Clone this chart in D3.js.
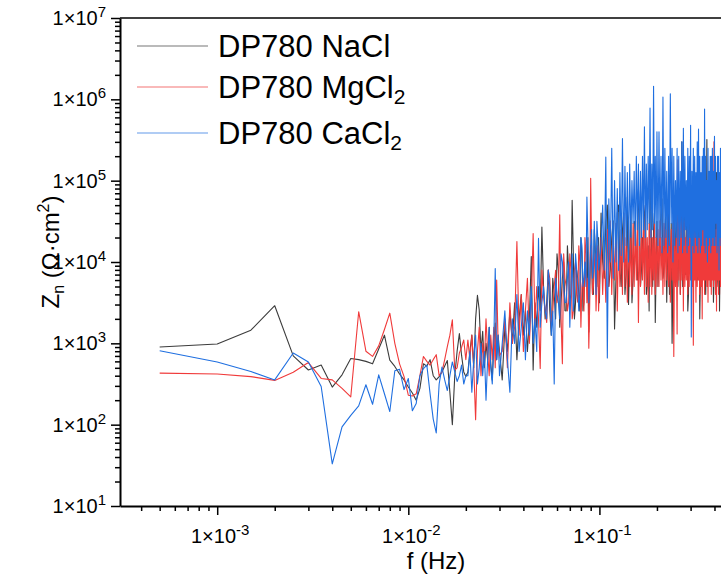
<!DOCTYPE html>
<html>
<head>
<meta charset="utf-8">
<script src="https://cdnjs.cloudflare.com/ajax/libs/d3/7.8.5/d3.min.js"></script>
<style>
body { margin: 0; background: #fff; }
svg { display: block; font-family: "Liberation Sans", Arial, sans-serif; }
</style>
</head>
<body>
<div id="chart"></div>
<script>
// frequency grid (Hz), shared by the three series
var freq = [0.0005, 0.001, 0.0015, 0.002, 0.0025, 0.003, 0.0035, 0.004, 0.0045, 0.005,
  0.0055, 0.006, 0.0065, 0.007, 0.0075, 0.008, 0.0085, 0.009, 0.0095, 0.01,
  0.0105, 0.011, 0.0115, 0.012, 0.0125, 0.013, 0.0135, 0.014, 0.0145, 0.015,
  0.0155, 0.016, 0.0165, 0.017, 0.0175, 0.018, 0.0185, 0.019, 0.0195, 0.02,
  0.0205, 0.021, 0.0215, 0.022, 0.0225, 0.023, 0.0235, 0.024, 0.0245, 0.025,
  0.0255, 0.026, 0.0265, 0.027, 0.0275, 0.028, 0.0285, 0.029, 0.0295, 0.03,
  0.031, 0.032, 0.033, 0.034, 0.035, 0.036, 0.037, 0.038, 0.039, 0.04,
  0.041, 0.042, 0.043, 0.044, 0.045, 0.046, 0.047, 0.048, 0.049, 0.05,
  0.051, 0.052, 0.053, 0.054, 0.055, 0.056, 0.057, 0.058, 0.059, 0.06,
  0.061, 0.062, 0.063, 0.064, 0.065, 0.066, 0.067, 0.068, 0.069, 0.07,
  0.071, 0.072, 0.073, 0.074, 0.075, 0.076, 0.077, 0.078, 0.079, 0.08,
  0.081, 0.082, 0.083, 0.084, 0.085, 0.086, 0.087, 0.088, 0.089, 0.09,
  0.091, 0.092, 0.093, 0.094, 0.095, 0.096, 0.097, 0.098, 0.099, 0.1,
  0.102, 0.104, 0.106, 0.108, 0.11, 0.112, 0.114, 0.116, 0.118, 0.12,
  0.122, 0.124, 0.126, 0.128, 0.13, 0.132, 0.134, 0.136, 0.138, 0.14,
  0.142, 0.144, 0.146, 0.148, 0.15, 0.152, 0.154, 0.156, 0.158, 0.16,
  0.162, 0.164, 0.166, 0.168, 0.17, 0.172, 0.174, 0.176, 0.178, 0.18,
  0.182, 0.184, 0.186, 0.188, 0.19, 0.192, 0.194, 0.196, 0.198, 0.2,
  0.2025, 0.205, 0.2075, 0.21, 0.2125, 0.215, 0.2175, 0.22, 0.2225, 0.225,
  0.2275, 0.23, 0.2325, 0.235, 0.2375, 0.24, 0.2425, 0.245, 0.2475, 0.25,
  0.2525, 0.255, 0.2575, 0.26, 0.2625, 0.265, 0.2675, 0.27, 0.2725, 0.275,
  0.2775, 0.28, 0.2825, 0.285, 0.2875, 0.29, 0.2925, 0.295, 0.2975, 0.3,
  0.3025, 0.305, 0.3075, 0.31, 0.3125, 0.315, 0.3175, 0.32, 0.3225, 0.325,
  0.3275, 0.33, 0.3325, 0.335, 0.3375, 0.34, 0.3425, 0.345, 0.3475, 0.35,
  0.3525, 0.355, 0.3575, 0.36, 0.3625, 0.365, 0.3675, 0.37, 0.3725, 0.375,
  0.3775, 0.38, 0.3825, 0.385, 0.3875, 0.39, 0.3925, 0.395, 0.3975, 0.4,
  0.4025, 0.405, 0.4075, 0.41, 0.4125, 0.415, 0.4175, 0.42, 0.4225, 0.425,
  0.4275, 0.43, 0.4325, 0.435, 0.4375, 0.44, 0.4425, 0.445, 0.4475, 0.45,
  0.4525, 0.455, 0.4575, 0.46, 0.4625, 0.465, 0.4675, 0.47, 0.4725, 0.475,
  0.4775, 0.48, 0.4825, 0.485, 0.4875, 0.49, 0.4925, 0.495, 0.4975, 0.5];

// Zn (Ohm.cm2), DP780 in NaCl
var zNaCl = [900, 980, 1450, 2900, 700, 470, 540, 290, 410, 650, 630, 600, 560, 850, 1260, 620, 520, 420, 355, 290,
  245, 200, 280, 560, 525, 630, 400, 355, 390, 445, 525, 615, 250, 100, 400, 795, 1320, 710, 445, 390,
  445, 795, 1260, 500, 2000, 3900, 2570, 795, 1410, 500, 1000, 630, 1580, 560, 355, 1000, 1780, 630, 1260, 795,
  355, 1580, 795, 2510, 1000, 3160, 630, 2000, 3980, 1260, 2510, 795, 2000, 11700, 470, 3160, 1580, 5000, 2510, 26900,
  5000, 2000, 3200, 7940, 2500, 1260, 6300, 3980, 2000, 12600, 7900, 1580, 3200, 6310, 10000, 2510, 2500, 15800, 7900, 3160,
  4000, 57500, 12600, 2000, 3200, 7940, 6300, 3980, 2500, 20000, 12600, 2510, 3200, 10000, 7900, 5000, 20000, 1380, 5000, 15800,
  10000, 3980, 4000, 25100, 15800, 6310, 5000, 12600, 20000, 3160,
  4e4, 1e4, 6.3e3, 3.16e4, 5e4, 5e3, 8e3, 2e4, 3.2e4, 1.5e3, 6e3, 3.98e4, 5e4, 7.9e3, 5e3, 2.5e4, 4e4, 4e3, 7e3, 6.3e4,
  3e3, 1.26e4, 4.5e4, 3.16e3, 6e3, 3.16e4, 3e4, 1e4, 6e3, 7.9e4, 4e4, 5e3, 8e3, 2e4, 1e4, 4e4, 5e4, 4e3, 5e3, 1.58e4,
  2.5e3, 1e5, 6e4, 7.9e3, 5e3, 2.5e4, 4e4, 1.8e3, 8e3, 3.16e4,
  5e3, 1.26e4, 2e4, 4e4, 6e4, 6.3e3, 8e3, 2.5e4, 4e4, 3.2e3, 1.2e4, 5e4, 4e3, 1e4, 3e4, 1e3, 6e3, 3.2e4, 5e4, 7.9e3,
  2.5e4, 6.3e4, 5e3, 1.6e4, 4e4, 4e3, 8e3, 3e5, 5e3, 2e4, 6e4, 7.9e3, 7e3, 4e4, 3e4, 2.5e3, 4e3, 7.9e4, 5e4, 1.26e4,
  6e3, 3.2e4, 4e4, 5e3, 8e3, 1e5, 4e4, 1.6e4, 3e4, 6.3e3, 6e3, 4e4, 5e4, 2e3, 6e3, 2.5e4, 1e4, 6.3e4, 4e4, 7.9e3,
  5e4, 1.6e4, 6e3, 4e3, 2e4, 3.2e5, 6e3, 1.26e4, 8e3, 3.2e4, 5e4, 5e3, 5e3, 7.9e4, 4e4, 1e4, 2e4, 3.2e3, 6e3, 4e4,
  4e4, 1.6e4, 5e3, 1.26e5, 3e4, 6.3e3, 5e3, 2.5e4, 4e4, 2.5e3, 8e3, 5e4, 3e4, 1e4, 5e3, 2e4, 4e4, 4e3, 6e3, 1.6e5,
  4e4, 1.26e4, 3e4, 7.9e3, 6e3, 4e4, 5e4, 2e3, 6e3, 3.2e4, 4e4, 1e4, 8e3, 6.3e4, 3e4, 5e3, 6e3, 2.5e4, 4e4, 1.6e4];

// Zn (Ohm.cm2), DP780 in MgCl2
var zMgCl2 = [430, 420, 390, 350, 440, 580, 370, 355, 280, 220, 2450, 800, 690, 930, 1480, 2350, 1000, 560, 390, 230,
  225, 240, 400, 690, 600, 540, 630, 725, 400, 445, 630, 910, 1260, 1950, 470, 500, 760, 890, 1100, 630,
  1100, 630, 1260, 500, 115, 795, 1580, 400, 1000, 560, 2000, 795, 400, 1260, 630, 1580, 500, 6000, 1000, 710,
  795, 2000, 500, 3160, 1000, 1580, 17800, 1260, 3980, 795, 2510, 6310, 1000, 3160, 22400, 1580, 5000, 2000, 490, 7940,
  4000, 2510, 1800, 7940, 6300, 1580, 2500, 5000, 7900, 3160, 4000, 38000, 2000, 560, 12600, 6310, 5000, 2510, 3200, 12600,
  7900, 2000, 2500, 7940, 10000, 3980, 3200, 15800, 10000, 1580, 5000, 6310, 2500, 20000, 12600, 3160, 6300, 870, 3200, 107000,
  15800, 3980, 5000, 10000, 12600, 2510, 6300, 15800, 2500, 5000,
  2e4, 4e3, 1.6e4, 3.2e3, 2.5e4, 5e3, 3.2e4, 4e3, 2e4, 6e3, 3e4, 2.5e3, 2e4, 5e3, 2.5e4, 4e3, 4e4, 5e3, 2e4, 3.2e3,
  2.5e4, 5e3, 2e4, 4e3, 3e4, 5e3, 2.5e4, 6e3, 3.2e4, 1.8e3, 2e4, 5e3, 3.2e4, 6e3, 2.5e4, 4e3, 5e4, 5e3, 2e4, 3.2e3,
  3e4, 5e3, 2.5e4, 4e3, 2e4, 6e3, 3e4, 4e3, 2e4, 5e3,
  2.5e4, 5e3, 3.2e4, 6e3, 2e4, 4e3, 3e4, 5e3, 2.5e4, 6e3, 4e4, 5e3, 2e4, 3.2e3, 2.5e4, 6e3, 3e4, 690, 2.5e4, 5e3,
  2e4, 1.3e3, 1.8e5, 6e3, 2.5e4, 4e3, 5e4, 6e3, 3e4, 2.5e3, 3.2e4, 5e3, 2e4, 6e3, 2.5e4, 4e3, 3e4, 5e3, 2e4, 6e3,
  4e4, 5e3, 2e4, 950, 3e4, 6e3, 2.5e4, 3.2e3, 6.3e4, 5e3, 2.5e4, 6e3, 2e4, 4e3, 3e4, 5e3, 2.5e4, 2e3, 3.2e4, 6e3,
  4e4, 4e3, 2.5e4, 6e3, 2e4, 5e3, 3e4, 3.2e3, 2.5e4, 6e3, 2e4, 5e3, 3.2e4, 4e3, 2.5e4, 6e3, 3e4, 5e3, 3e5, 6e3,
  2e4, 4e3, 2.5e4, 2.5e3, 5e4, 6e3, 2.5e4, 4e3, 3.2e4, 6e3, 2e4, 5e3, 2.5e4, 4e3, 3e4, 6e3, 2.5e4, 1.6e3, 3e4, 5e3,
  4e4, 6e3, 2.5e4, 5e3, 2e4, 3.2e3, 3e4, 6e3, 2.5e4, 5e3, 3e4, 4e3, 2e4, 6e3, 2.5e4, 5e3, 3.2e4, 4e3, 2e4, 6e3];

// Zn (Ohm.cm2), DP780 in CaCl2
var zCaCl2 = [810, 590, 450, 355, 760, 590, 295, 33, 94, 130, 170, 310, 178, 410, 240, 145, 460, 480, 270, 370,
  148, 182, 400, 490, 540, 240, 117, 79, 316, 510, 355, 263, 400, 590, 445, 340, 400, 540, 316, 400,
  400, 795, 250, 630, 1260, 316, 500, 1000, 400, 795, 200, 630, 1580, 500, 316, 1000, 8300, 630, 1260, 400,
  1000, 2510, 630, 250, 2000, 1000, 3980, 795, 1580, 3160, 630, 2510, 1260, 5000, 1000, 2000, 795, 19500, 1580, 3160,
  5000, 2510, 2000, 7940, 5000, 1260, 2500, 316, 6300, 3980, 3200, 2000, 12600, 10000, 5000, 3160, 3200, 6310, 10000, 1580,
  5000, 12600, 2500, 3980, 12600, 7940, 5000, 2510, 4000, 20000, 15800, 5000, 6300, 10000, 5000, 63000, 20000, 3160, 6300, 15800,
  25000, 6310, 8000, 31600, 12600, 3980, 31600, 20000, 8000, 10000,
  1.6e4, 5e4, 8e3, 1.95e5, 660, 6e4, 1e4, 2.5e5, 6.3e3, 1e5, 1e4, 8e4, 7.9e3, 1.26e5, 1.2e4, 3.3e5, 1e4, 1.5e5, 1.6e4, 1.26e5,
  1e4, 1.6e5, 2e4, 1e5, 3e4, 1.3e5, 1.6e4, 2e5, 2.5e4, 1.6e5, 1.6e4, 1.3e5, 2e4, 2e5, 2.5e4, 4.6e5, 2e4, 1.6e5, 2.5e4, 2e5,
  3e4, 7.8e5, 2e4, 1.6e5, 2.5e4, 1.45e6, 3e4, 2e5, 2e4, 4e5,
  1.6e4, 4e5, 2e4, 2e5, 1.3e4, 1.07e6, 1.6e4, 2.5e5, 2e4, 1.3e5, 1.3e4, 2e5, 1.6e4, 1.17e6, 3e4, 2.5e5, 1e4, 2e5, 1.6e4, 1e5,
  2e4, 2.5e5, 1.3e4, 2e5, 1.6e4, 1.3e5, 2e4, 3e5, 1.3e4, 4.4e5, 1.6e4, 2e5, 2.5e4, 1e5, 1.3e4, 2.5e5, 1.6e4, 2e5, 2e4, 4.8e5,
  1.2e3, 1.3e5, 1.6e4, 2.5e5, 1.3e4, 2e5, 2e4, 1.26e5, 1.6e4, 3e5, 1.3e4, 4.3e5, 2e4, 2e5, 1.3e4, 1.26e5, 1.6e4, 2e5, 2.5e4, 2.5e5,
  1.6e4, 7.6e5, 1.3e4, 2e5, 2e4, 1e5, 1e4, 2.5e5, 1.6e4, 1.3e5, 2e4, 2e5, 1.3e4, 2e5, 1.6e4, 2.5e5, 2e4, 1.3e5, 1.6e4, 3.5e5,
  1.6e4, 2e5, 3e4, 1e5, 1.3e4, 2e5, 1.6e4, 2e5, 8e3, 1.26e5, 2e4, 2.5e5, 1.6e4, 2e5, 2e4, 1e5, 1.3e4, 3e5, 1.6e4, 2e5,
  2e4, 2.5e5, 1.3e4, 1e5, 1.6e4, 2e5, 2e4, 2.5e5, 1.6e4, 1.26e5, 1e4, 2e5, 1.6e4, 2e5, 2e4, 2.5e5, 1.6e4, 1.3e5, 3e4, 2e5];

var seriesNames = ["DP780 NaCl", "DP780 MgCl", "DP780 CaCl"];
var seriesSubs = ["", "2", "2"];
var seriesColors = ["#3c3c3c", "#f03a3a", "#1f6fe0"];
var yTickExps = [1, 2, 3, 4, 5, 6, 7];
var xTickExps = [-3, -2, -1];

var width = 721, height = 576;

var svg = d3.select("#chart").append("svg")
    .attr("width", width).attr("height", height);

svg.append("rect").attr("width", width).attr("height", height).attr("fill", "#fff");

var x = d3.scaleLog().domain([3.1e-4, 0.5]).range([120, 733]);
var y = d3.scaleLog().domain([10, 1e7]).range([506, 18]);

var isMajor = function(d){
    var l = Math.log10(d);
    return Math.abs(l - Math.round(l)) < 1e-6;
};
var minorX = x.ticks().filter(function(d){ return !isMajor(d); });
var minorY = y.ticks().filter(function(d){ return !isMajor(d); });

// clip for data
svg.append("clipPath").attr("id", "plotclip")
   .append("rect").attr("x", 120).attr("y", 18).attr("width", 613).attr("height", 488);

var line = d3.line()
    .x(function(d){ return x(d[0]); })
    .y(function(d){ return y(d[1]); });

var plot = svg.append("g").attr("clip-path", "url(#plotclip)");
[zNaCl, zMgCl2, zCaCl2].forEach(function(z, i){
    plot.append("path")
        .datum(d3.zip(freq, z))
        .attr("d", line)
        .attr("fill", "none")
        .attr("stroke", seriesColors[i])
        .attr("stroke-width", 1.1)
        .attr("stroke-linejoin", "round");
});

// top frame line
svg.append("line").attr("x1", 120).attr("x2", 733).attr("y1", 18).attr("y2", 18)
   .attr("stroke", "#000").attr("stroke-width", 1.5);

// x axis
var gx = svg.append("g").attr("transform", "translate(0,506)");
gx.append("g").call(d3.axisBottom(x).tickValues(minorX).tickSize(5).tickFormat("").tickSizeOuter(0))
  .select(".domain").remove();
gx.append("g").call(d3.axisBottom(x).tickValues(xTickExps.map(function(e){ return Math.pow(10, e); }))
  .tickSize(9).tickFormat("").tickSizeOuter(0));

// y axis
var gy = svg.append("g").attr("transform", "translate(120,0)");
gy.append("g").call(d3.axisLeft(y).tickValues(minorY).tickSize(5).tickFormat("").tickSizeOuter(0))
  .select(".domain").remove();
gy.append("g").call(d3.axisLeft(y).tickValues(yTickExps.map(function(e){ return Math.pow(10, e); }))
  .tickSize(9).tickFormat("").tickSizeOuter(0));

svg.selectAll(".domain").attr("stroke", "#000").attr("stroke-width", 2);
svg.selectAll(".tick line").attr("stroke", "#000").attr("stroke-width", 1.5);

// tick labels 1x10^n
var sciLabel = function(t, e){
    t.text("1\u00d710");
    t.append("tspan").attr("dy", -8).attr("font-size", 15).text(e);
};

yTickExps.forEach(function(e){
    var t = svg.append("text")
        .attr("x", 106).attr("y", y(Math.pow(10, e)) + 7)
        .attr("text-anchor", "end").attr("font-size", 20).attr("fill", "#000");
    sciLabel(t, e);
});
xTickExps.forEach(function(e){
    var t = svg.append("text")
        .attr("x", x(Math.pow(10, e)) + 3).attr("y", 543)
        .attr("text-anchor", "middle").attr("font-size", 20).attr("fill", "#000");
    sciLabel(t, "-" + Math.abs(e));
});

// axis titles
svg.append("text").attr("x", 436).attr("y", 569).attr("text-anchor", "middle")
   .attr("font-size", 24).text("f (Hz)");

var yt = svg.append("text").attr("transform", "translate(59,252) rotate(-90)")
   .attr("text-anchor", "middle").attr("font-size", 24);
yt.append("tspan").text("Z");
yt.append("tspan").attr("font-size", 16).attr("dy", 5).text("n");
yt.append("tspan").attr("dy", -5).text(" (\u03a9\u00b7cm");
yt.append("tspan").attr("font-size", 16).attr("dy", -10).text("2");
yt.append("tspan").attr("dy", 10).text(")");

// legend
var legendLineY = [46, 87, 133];
var legendTextY = [57, 98, 144];
seriesNames.forEach(function(name, i){
    svg.append("line")
       .attr("x1", 137).attr("x2", 208)
       .attr("y1", legendLineY[i]).attr("y2", legendLineY[i])
       .attr("stroke", seriesColors[i]).attr("stroke-width", 1.2)
       .attr("stroke-opacity", 0.7);
    var t = svg.append("text").attr("x", 218).attr("y", legendTextY[i])
       .attr("font-size", 31).attr("fill", "#000").text(name);
    if (seriesSubs[i]) {
        t.append("tspan").attr("font-size", 21).attr("dy", 6).text(seriesSubs[i]);
    }
});
</script>
</body>
</html>
